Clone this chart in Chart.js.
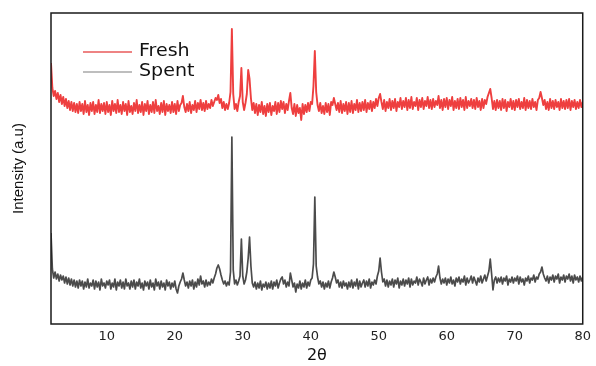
<!DOCTYPE html>
<html>
<head>
<meta charset="utf-8">
<script src="https://cdn.jsdelivr.net/npm/chart.js@4.4.1/dist/chart.umd.min.js"></script>
<style>
  html, body { margin: 0; padding: 0; background: #fff; }
</style>
</head>
<body>
<canvas id="xrd" width="596" height="366"></canvas>
<script>
// 2θ sampling: 1.8° to 80° in 0.2° steps
const thetaStart = 1.8;
const thetaStep = 0.2;

const seriesNames = ['Fresh', 'Spent'];

// intensity (a.u.), Fresh trace is shown offset above Spent
const fresh = [
  261, 236, 228, 233, 225, 231, 222, 229, 220, 227,
  218, 225, 216, 223, 214, 222, 213, 221, 212, 220,
  211, 222, 213, 220, 210, 223, 212, 219, 209, 221,
  213, 222, 210, 219, 212, 224, 211, 220, 213, 221,
  210, 222, 212, 219, 209, 223, 213, 220, 211, 224,
  212, 219, 210, 222, 213, 220, 209, 223, 212, 218,
  210, 221, 213, 224, 211, 219, 212, 222, 209, 220,
  213, 223, 210, 219, 212, 222, 211, 224, 213, 218,
  210, 221, 212, 223, 209, 220, 213, 219, 211, 222,
  212, 220, 210, 223, 213, 219, 221, 228, 217, 212,
  220, 213, 222, 211, 219, 214, 223, 212, 221, 215,
  224, 214, 221, 213, 223, 215, 220, 216, 224, 218,
  222, 226, 224, 229, 221, 225, 216, 222, 214, 220,
  215, 221, 232, 295, 230, 215, 220, 213, 222, 228,
  256, 222, 214, 221, 230, 254, 245, 226, 214, 221,
  211, 220, 209, 219, 212, 222, 210, 218, 208, 220,
  212, 221, 209, 218, 213, 222, 210, 221, 212, 223,
  215, 222, 211, 220, 214, 223, 231, 216, 210, 220,
  208, 219, 211, 216, 204, 220, 210, 219, 212, 221,
  213, 222, 220, 238, 273, 232, 219, 213, 221, 211,
  218, 210, 221, 212, 220, 209, 222, 219, 226, 220,
  214, 221, 212, 223, 211, 220, 213, 222, 210, 221,
  212, 223, 211, 220, 214, 224, 212, 221, 213, 222,
  214, 224, 212, 221, 215, 223, 213, 222, 216, 225,
  218, 226, 230, 222, 215, 224, 213, 222, 216, 225,
  214, 223, 216, 225, 213, 222, 217, 226, 215, 223,
  217, 226, 214, 224, 216, 227, 215, 222, 218, 226,
  214, 224, 217, 226, 215, 223, 218, 227, 216, 224,
  215, 225, 217, 223, 219, 228, 216, 224, 214, 225,
  217, 226, 215, 224, 218, 227, 214, 223, 216, 225,
  215, 226, 217, 224, 214, 227, 216, 223, 218, 225,
  216, 224, 215, 226, 217, 223, 214, 225, 216, 224,
  220, 227, 231, 235, 226, 215, 223, 214, 224, 216,
  223, 214, 225, 216, 224, 213, 222, 217, 225, 215,
  223, 214, 224, 217, 225, 215, 222, 216, 226, 214,
  224, 216, 223, 215, 225, 217, 222, 214, 224, 226,
  232, 226, 219, 224, 215, 222, 214, 225, 216, 223,
  215, 224, 217, 222, 214, 225, 216, 223, 215, 224,
  216, 225, 214, 223, 217, 224, 215, 222, 216, 224,
  217, 222
];

const spent = [
  91, 55, 46, 52, 45, 50, 43, 49, 44, 48,
  41, 47, 40, 46, 39, 45, 38, 44, 37, 43,
  36, 44, 38, 43, 35, 42, 37, 45, 36, 41,
  38, 44, 35, 43, 37, 42, 34, 45, 38, 41,
  36, 43, 39, 44, 35, 41, 37, 45, 34, 42,
  38, 44, 36, 42, 35, 45, 38, 41, 35, 43,
  37, 44, 35, 42, 38, 45, 36, 41, 34, 43,
  38, 42, 35, 44, 37, 41, 34, 45, 38, 42,
  35, 43, 37, 41, 34, 44, 38, 42, 35, 41,
  37, 43, 35, 31, 38, 42, 45, 51, 44, 38,
  42, 36, 43, 38, 44, 35, 42, 37, 45, 39,
  48, 40, 43, 37, 44, 38, 42, 39, 45, 41,
  46, 50, 56, 59, 55, 49, 44, 40, 43, 38,
  42, 39, 52, 187, 54, 40, 44, 39, 43, 48,
  85, 48, 40, 44, 52, 66, 87, 58, 41, 37,
  42, 35, 41, 36, 43, 34, 40, 37, 42, 35,
  41, 36, 43, 35, 42, 38, 44, 36, 41, 45,
  47, 40, 44, 37, 42, 38, 51, 44, 37, 41,
  32, 40, 36, 43, 35, 41, 37, 44, 36, 42,
  38, 44, 46, 60, 127, 58, 47, 40, 43, 37,
  42, 35, 41, 37, 43, 36, 42, 46, 52, 47,
  41, 44, 37, 42, 36, 43, 38, 41, 35, 42,
  37, 44, 36, 42, 38, 45, 35, 43, 37, 41,
  44, 37, 43, 38, 45, 36, 42, 39, 44, 40,
  48, 53, 66, 52, 42, 45, 38, 44, 37, 43,
  39, 45, 37, 44, 40, 46, 36, 43, 39, 45,
  38, 44, 40, 46, 37, 45, 39, 43, 41, 47,
  39, 45, 42, 38, 46, 40, 44, 47, 39, 45,
  41, 46, 42, 47, 50, 58, 46, 40, 45, 41,
  46, 39, 45, 41, 47, 40, 44, 38, 46, 42,
  47, 40, 45, 42, 48, 39, 46, 41, 44, 48,
  41, 47, 43, 39, 46, 42, 48, 41, 45, 49,
  43, 48, 53, 65, 50, 34, 44, 47, 41, 46,
  42, 47, 40, 46, 43, 48, 39, 45, 42, 47,
  41, 46, 43, 48, 40, 47, 42, 45, 39, 46,
  43, 48, 41, 46, 44, 49, 42, 47, 45, 50,
  52, 57, 50, 46, 43, 48, 41, 47, 44, 49,
  42, 48, 45, 50, 41, 47, 44, 49, 42, 48,
  45, 50, 43, 48, 41, 49, 44, 47, 42, 48,
  43, 47
];

const xTicks = [10, 20, 30, 40, 50, 60, 70, 80];

const twoTheta = spent.map((_, i) => +(thetaStart + thetaStep * i).toFixed(1));

const lineColors = ['#ee3f3f', '#4b4b4b'];
const legendColors = ['#e85a5a', '#a8a8a8'];

// box round the plot area
const framePlugin = {
  id: 'frame',
  afterDraw(chart) {
    const {ctx, chartArea: a} = chart;
    ctx.save();
    ctx.strokeStyle = '#1a1a1a';
    ctx.lineWidth = 1.5;
    ctx.strokeRect(a.left, a.top, a.right - a.left, a.bottom - a.top);
    ctx.restore();
  }
};

// legend sits inside the plot, top left
const insideLegend = {
  id: 'insideLegend',
  afterDraw(chart) {
    const {ctx, chartArea: a} = chart;
    ctx.save();
    seriesNames.forEach((name, i) => {
      const y = a.top + 39 + i * 20;
      ctx.strokeStyle = legendColors[i];
      ctx.lineWidth = 1.3;
      ctx.beginPath();
      ctx.moveTo(a.left + 32, y);
      ctx.lineTo(a.left + 81, y);
      ctx.stroke();
      ctx.save();
      ctx.translate(a.left + 88, y);
      ctx.scale(1.12, 1);
      ctx.fillStyle = '#111';
      ctx.font = '17px "DejaVu Sans"';
      ctx.textBaseline = 'middle';
      ctx.fillText(name, 0, 0);
      ctx.restore();
    });
    ctx.restore();
  }
};

new Chart(document.getElementById('xrd'), {
  type: 'line',
  data: {
    labels: twoTheta,
    datasets: [
      {
        label: seriesNames[0],
        data: fresh.map((v, i) => ({x: twoTheta[i], y: v})),
        borderColor: lineColors[0],
        borderWidth: 1.9,
        borderJoinStyle: 'round'
      },
      {
        label: seriesNames[1],
        data: spent.map((v, i) => ({x: twoTheta[i], y: v})),
        borderColor: lineColors[1],
        borderWidth: 1.7,
        borderJoinStyle: 'round'
      }
    ]
  },
  options: {
    responsive: false,
    animation: false,
    parsing: false,
    layout: { padding: { top: 13, right: 10, left: 0, bottom: 0 } },
    elements: {
      point: { radius: 0 },
      line: { tension: 0 }
    },
    plugins: {
      legend: { display: false },
      tooltip: { enabled: false }
    },
    scales: {
      x: {
        type: 'linear',
        min: thetaStart,
        max: 80,
        grid: { display: false, drawTicks: false },
        border: { display: false },
        afterBuildTicks: s => { s.ticks = xTicks.map(v => ({value: v})); },
        afterFit: s => { s.height = 42; },
        ticks: {
          padding: 5,
          color: '#222',
          font: { family: '"DejaVu Sans"', size: 13 },
          maxRotation: 0
        },
        title: {
          display: true,
          text: '2θ',
          color: '#111',
          padding: { top: 0, bottom: 1 },
          font: { family: '"DejaVu Sans"', size: 16 }
        }
      },
      y: {
        min: 0,
        max: 311,
        grid: { display: false, drawTicks: false },
        border: { display: false },
        ticks: { display: false },
        afterFit: s => { s.width = 51; },
        title: {
          display: true,
          text: 'Intensity (a.u)',
          color: '#111',
          padding: { top: 10, bottom: 0 },
          font: { family: '"Liberation Sans"', size: 15 }
        }
      }
    }
  },
  plugins: [framePlugin, insideLegend]
});
</script>
</body>
</html>
